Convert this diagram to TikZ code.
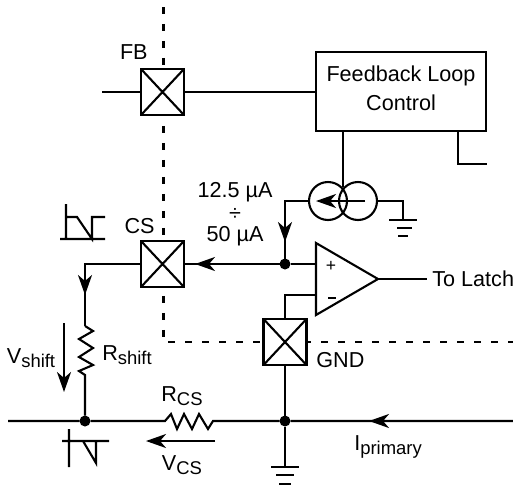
\documentclass[tikz,border=0pt]{standalone}
\usepackage{fontspec}
\setmainfont{Liberation Sans}
\usetikzlibrary{arrows.meta}

\newcommand{\lowidx}[1]{\raisebox{-0.35ex}{\fontsize{10.5pt}{10.5pt}\selectfont #1}}

\tikzset{
	wire/.style={line width=0.042cm},
	tip/.style={-{Stealth[length=0.4cm,width=0.28cm,inset=0.12cm]}},
	boundary/.style={line width=0.042cm, dash pattern=on 0.14cm off 0.2cm},
	padbox/.style={draw, fill=white, line width=0.05cm, minimum width=0.86cm, minimum height=0.92cm, inner sep=0pt, outer sep=0pt,
		path picture={\draw[wire] (path picture bounding box.north west)--(path picture bounding box.south east) (path picture bounding box.north east)--(path picture bounding box.south west);}},
	junction/.style={circle, fill=black, minimum size=0.22cm, inner sep=0pt, outer sep=0pt},
	source/.style={circle, draw, wire, minimum size=0.76cm, inner sep=0pt, outer sep=0pt},
	lab/.style={inner sep=0pt, font=\fontsize{12.3pt}{14pt}\selectfont}
}

\begin{document}
\begin{tikzpicture}[x=0.02cm, y=-0.02cm]
	\useasboundingbox (0,0) rectangle (513,487);

	%isolation boundary
	\draw[boundary] (163.5,7)--(163.5,342)--(513,342);

	%pads
	\node[padbox] (fb) at (162.5,92) {};
	\node[padbox] (cs) at (162.5,264) {};
	\node[padbox] (gnd) at (285,342) {};
	\node[lab, anchor=east] (fblab) at (148,52) {FB};
	\node[lab, anchor=east] (cslab) at (155,226) {CS};
	\node[lab, anchor=west] (gndlab) at (316,360) {GND};

	%control block
	\node[draw, wire, minimum width=3.4cm, minimum height=1.58cm, inner sep=0pt, outer sep=0pt] (loop) at (401,91.5) {};
	\node[lab] (looplab) at (401,76) {Feedback Loop};
	\node[lab] (ctrllab) at (401,103) {Control};
	\coordinate (fbin) at (102,92);
	\draw[wire] (fbin)--(fb.west);
	\draw[wire] (fb.east)--(fb.east-|loop.west);
	\coordinate (outa) at (458,131);
	\coordinate (outb) at (458,164);
	\coordinate (outc) at (487,164);
	\draw[wire] (outa)--(outb)--(outc);

	%current mirror
	\node[source] (srca) at (328,201) {};
	\node[source] (srcb) at (358,201) {};
	\coordinate (srctop) at (343,131);
	\coordinate (srcjoin) at (343,187);
	\draw[wire] (srctop)--(srcjoin);
	\coordinate (srctail) at (365,201);
	\coordinate (srctip) at (316,201);
	\draw[wire, tip] (srctail)--(srctip);

	%comparator
	\coordinate (oppos) at (316,264);
	\coordinate (opneg) at (316,295);
	\coordinate (opout) at (378,279);
	\coordinate (latchin) at (427,279);
	\draw[wire, line join=miter] (316,243)--(316,315)--(opout)--cycle;
	\node[inner sep=0pt, font=\fontsize{10pt}{12pt}\selectfont] (plus) at (331,266) {+};
	\node[inner sep=0pt] (minus) at (332,298) {\rule{0.16cm}{0.022cm}};
	\node[lab, anchor=west] (latch) at (432,279) {To Latch};
	\draw[wire] (opout)--(latchin);

	%sense node
	\node[junction] (sense) at (285,264) {};
	\coordinate (senseleft) at (195,264);
	\coordinate (bend) at (285,201);
	\coordinate (bendmid) at (285,242);
	\draw[wire] (srca.west)--(bend)--(sense);
	\draw[wire, tip] (bend)--(bendmid);
	\draw[wire] (sense)--(oppos);
	\draw[wire] (sense)--(cs.east);
	\draw[wire, tip] (sense)--(senseleft);
	\coordinate (negbend) at (285,295);
	\draw[wire] (opneg)--(negbend)--(gnd.north);

	%ground of the mirror
	\coordinate (gndtop) at (403,201);
	\coordinate (gndbar) at (403,220);
	\draw[wire] (srcb.east)--(gndtop)--(gndbar);
	\draw[wire] (389,220)--(417,220);
	\draw[wire] (397,228)--(412,228);
	\draw[wire] (398,236)--(408,236);

	%shift resistor
	\node[junction] (lower) at (85,421) {};
	\coordinate (csbend) at (85,264);
	\coordinate (csmid) at (85,295);
	\draw[wire] (cs.west)--(csbend)--(85,326);
	\draw[wire, tip] (csbend)--(csmid);
	\draw[wire] (85,326)--(93,331)--(79,339)--(93,348)--(79,357)--(93,365)--(79,371)--(85,375)--(lower);
	\coordinate (shifta) at (64,323);
	\coordinate (shiftb) at (64,392);
	\draw[wire, tip] (shifta)--(shiftb);
	\node[lab] (vshift) at (31,358) {V\lowidx{shift}};
	\node[lab] (rshift) at (127,355) {R\lowidx{shift}};

	%primary line
	\node[junction] (gndnode) at (285,421) {};
	\coordinate (linel) at (8,421);
	\coordinate (liner) at (513,421);
	\coordinate (linetip) at (369,421);
	\draw[wire] (linel)--(lower)--(165,421)--(171,414)--(177,429)--(184,414)--(192,429)--(199,414)--(208,429)--(213,421)--(gndnode)--(liner);
	\draw[wire, tip] (liner)--(linetip);
	\node[lab] (iprim) at (388,447) {I\lowidx{primary}};
	\node[lab] (rcs) at (182,396) {R\lowidx{CS}};
	\node[lab] (vcs) at (182,465) {V\lowidx{CS}};
	\coordinate (vcsa) at (215,441);
	\coordinate (vcsb) at (146,441);
	\draw[wire, tip] (vcsa)--(vcsb);

	%ground of the primary line
	\coordinate (primgnd) at (285,467);
	\draw[wire] (gnd.south)--(gndnode)--(primgnd);
	\draw[wire] (271,467)--(299,467);
	\draw[wire] (276,475)--(294,475);
	\draw[wire] (279,484)--(291,484);

	%current range
	\node[lab] (cura) at (235,192) {12.5 µA};
	\node[lab] (curb) at (235,214) {÷};
	\node[lab] (curc) at (235,236) {50 µA};

	%waveforms
	\draw[wire] (66,204)--(66,240) (60,239)--(105,239) (66,217)--(77,217)--(92,239)--(92,217)--(105,217);
	\draw[wire] (69,429)--(69,467) (62,441)--(109,441) (83,441)--(96,463)--(96,441);
\end{tikzpicture}
\end{document}
